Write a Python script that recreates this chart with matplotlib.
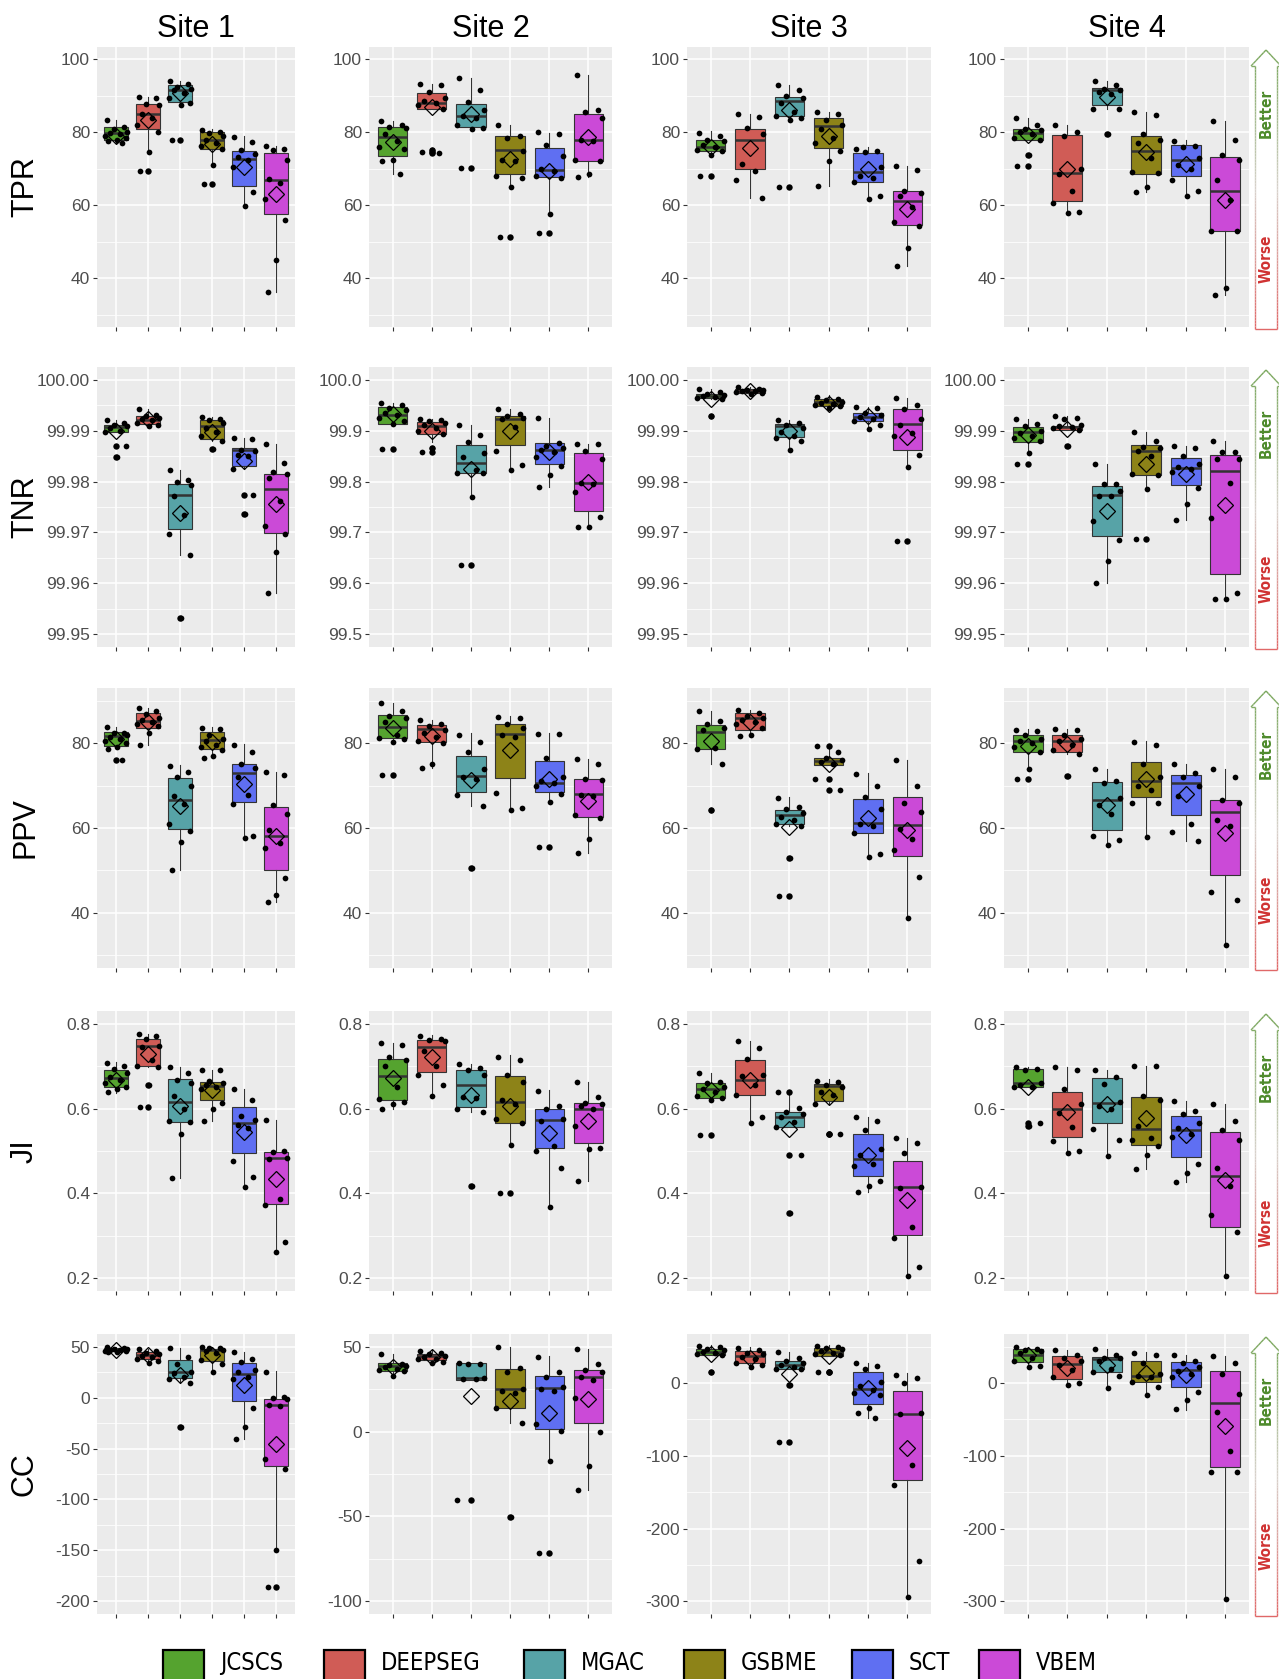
import matplotlib
matplotlib.use("Agg")
import matplotlib.pyplot as plt
import numpy as np
from matplotlib.collections import LineCollection
from matplotlib.colors import LinearSegmentedColormap
from matplotlib.patches import Rectangle

plt.rcParams['font.family'] = ['Liberation Sans', 'DejaVu Sans']
plt.rcParams['axes.unicode_minus'] = False

# ------------------------------------------------------------
# Methods, sites, metrics
# ------------------------------------------------------------
METHODS = ["JCSCS", "DEEPSEG", "MGAC", "GSBME", "SCT", "VBEM"]
COLORS = ["#55A32F", "#D05C56", "#57A3A7", "#8D8318", "#5F6FF2", "#CB4AD7"]
SITES = ["Site 1", "Site 2", "Site 3", "Site 4"]
METRICS = ["TPR", "TNR", "PPV", "JI", "CC"]

# box stats per site, per method: (whisker low, q1, median, q3, whisker high)
TPR_BOX = [
    [(77.2, 77.95, 79.8, 81.4, 83.4), (74.6, 81.0, 85.1, 87.8, 89.6), (87.4, 88.3, 91.7, 92.9, 94.1),
     (70.9, 75.5, 77.8, 80.1, 81.0), (59.7, 65.2, 72.7, 75.0, 79.1), (36.1, 57.5, 66.8, 74.3, 76.2)],
    [(68.6, 73.5, 78.7, 81.4, 83.0), (86.3, 86.3, 88.1, 90.9, 93.3), (81.0, 81.4, 84.4, 87.8, 95.0),
     (65.0, 68.6, 75.2, 79.0, 81.9), (57.6, 67.7, 69.7, 75.8, 79.8), (67.7, 72.1, 77.8, 85.1, 95.6)],
    [(73.8, 74.8, 76.1, 78.0, 80.3), (62.0, 70.0, 78.0, 81.0, 85.0), (83.5, 84.4, 88.5, 89.8, 92.9),
     (65.2, 75.8, 81.7, 84.0, 85.5), (61.8, 66.5, 69.1, 74.3, 75.9), (43.2, 54.7, 61.1, 63.9, 70.7)],
    [(78.0, 78.0, 79.8, 81.0, 83.8), (58.0, 61.1, 68.8, 79.4, 82.0), (86.3, 87.6, 91.7, 92.2, 94.0),
     (63.5, 68.6, 75.0, 79.0, 85.5), (62.4, 67.9, 72.3, 76.4, 77.8), (35.5, 52.9, 64.0, 73.2, 83.2)],
]
TPR_MEAN = [
    [79.1, 83.3, 90.8, 76.9, 70.4, 63.1],
    [77.3, 86.9, 84.9, 72.7, 69.4, 78.7],
    [75.9, 75.8, 86.0, 79.1, 70.0, 59.0],
    [79.3, 70.0, 89.8, 74.6, 71.4, 61.3],
]
TPR_PTS = [
    [[83.4, 81.5, 80.8, 80.2, 79.8, 79.5, 79.0, 78.5, 78.0, 77.5, 77.2],
     [89.6, 89.4, 87.9, 87.6, 85.0, 84.0, 82.0, 80.0, 74.6, 69.3],
     [94.0, 93.2, 92.5, 92.0, 91.5, 90.8, 89.5, 88.0, 87.4, 77.8],
     [80.7, 80.2, 79.8, 79.0, 78.0, 77.0, 76.2, 75.5, 70.9, 65.8],
     [78.8, 77.3, 75.1, 74.0, 73.2, 72.5, 70.4, 63.6, 59.8],
     [76.2, 75.3, 75.2, 72.4, 67.2, 66.0, 61.7, 56.0, 44.9, 36.1]],
    [[83.0, 82.0, 81.5, 81.2, 79.5, 77.5, 76.0, 75.5, 72.5, 72.0, 68.6],
     [93.3, 93.0, 91.0, 89.5, 88.5, 88.0, 87.5, 86.5, 75.2, 74.5, 74.3],
     [95.0, 91.5, 88.2, 86.0, 84.5, 84.0, 82.0, 81.2, 81.0, 70.2],
     [81.9, 79.0, 78.5, 75.0, 72.5, 72.0, 68.0, 67.5, 65.0, 51.2],
     [80.0, 79.5, 76.5, 73.5, 70.0, 69.5, 68.0, 67.5, 57.5, 52.3],
     [95.6, 86.2, 85.5, 84.0, 78.0, 77.5, 72.3, 72.0, 68.5, 67.7]],
    [[79.8, 79.0, 78.0, 77.5, 76.5, 76.0, 75.2, 74.8, 73.8, 68.1],
     [85.0, 84.2, 81.3, 79.5, 71.2, 69.5, 66.8, 62.0],
     [92.9, 91.5, 90.0, 89.5, 88.0, 85.5, 84.5, 84.0, 83.5, 65.0],
     [85.5, 85.0, 83.5, 82.0, 81.0, 78.5, 77.0, 75.0, 72.0, 65.2],
     [75.5, 75.0, 74.5, 70.5, 68.0, 67.5, 66.5, 62.5, 61.8],
     [70.7, 69.8, 64.0, 63.3, 62.5, 59.5, 55.4, 54.3, 48.3, 43.2]],
    [[83.8, 82.0, 81.0, 80.5, 80.0, 79.5, 78.5, 78.0, 73.8, 70.7],
     [82.0, 80.0, 79.0, 70.0, 68.5, 64.0, 60.5, 58.2, 58.0],
     [94.0, 93.0, 92.0, 91.5, 91.0, 90.5, 86.5, 86.3, 79.5],
     [85.5, 84.8, 79.5, 78.0, 77.0, 73.0, 69.0, 68.8, 65.0, 63.5],
     [77.5, 76.2, 76.0, 73.0, 71.0, 70.0, 67.0, 63.8, 62.5],
     [83.2, 78.0, 73.7, 72.5, 66.8, 61.5, 53.0, 53.0, 37.2, 35.5]],
]

TNR_BOX = [
    [(99.9897, 99.9897, 99.9907, 99.9912, 99.9920), (99.9910, 99.9913, 99.9921, 99.9929, 99.9943),
     (99.9655, 99.9707, 99.9773, 99.9795, 99.9823), (99.9880, 99.9884, 99.9910, 99.9920, 99.9927),
     (99.9825, 99.9831, 99.9862, 99.9866, 99.9886), (99.9581, 99.9699, 99.9786, 99.9814, 99.9874)],
    [(99.914, 99.914, 99.931, 99.946, 99.955), (99.877, 99.893, 99.910, 99.916, 99.923),
     (99.769, 99.817, 99.836, 99.8725, 99.911), (99.823, 99.871, 99.923, 99.928, 99.943),
     (99.790, 99.835, 99.862, 99.876, 99.925), (99.711, 99.743, 99.797, 99.856, 99.874)],
    [(99.9962, 99.9964, 99.9969, 99.9972, 99.9982), (99.9972, 99.9974, 99.9977, 99.9982, 99.9986),
     (99.9862, 99.9888, 99.9910, 99.9914, 99.9920), (99.9945, 99.9948, 99.9956, 99.9962, 99.9970),
     (99.9904, 99.9918, 99.9926, 99.9934, 99.9946), (99.9828, 99.9861, 99.9913, 99.9943, 99.9965)],
    [(99.9857, 99.9877, 99.9897, 99.9907, 99.9922), (99.9901, 99.9901, 99.9907, 99.9910, 99.9929),
     (99.9600, 99.9694, 99.9773, 99.9791, 99.9835), (99.9786, 99.9813, 99.9860, 99.9871, 99.9898),
     (99.9725, 99.9794, 99.9826, 99.9846, 99.9869), (99.9570, 99.9619, 99.9820, 99.9853, 99.9880)],
]
TNR_MEAN = [
    [99.9900, 99.9923, 99.9738, 99.9898, 99.9841, 99.9755],
    [99.933, 99.900, 99.825, 99.900, 99.859, 99.799],
    [99.9963, 99.9978, 99.9900, 99.9952, 99.9929, 99.9887],
    [99.9892, 99.9903, 99.9742, 99.9835, 99.9815, 99.9753],
]
TNR_PTS = [
    [[99.9920, 99.9915, 99.9912, 99.9910, 99.9905, 99.9900, 99.9897, 99.9870, 99.9848],
     [99.9943, 99.9930, 99.9928, 99.9925, 99.9922, 99.9920, 99.9915, 99.9912, 99.9910],
     [99.9823, 99.9803, 99.9800, 99.9793, 99.9772, 99.9735, 99.9697, 99.9655, 99.9532],
     [99.9927, 99.9922, 99.9920, 99.9915, 99.9905, 99.9898, 99.9890, 99.9880, 99.9864],
     [99.9886, 99.9884, 99.9862, 99.9860, 99.9853, 99.9850, 99.9825, 99.9774, 99.9737],
     [99.9874, 99.9836, 99.9818, 99.9815, 99.9807, 99.9762, 99.9712, 99.9696, 99.9662, 99.9581]],
    [[99.955, 99.950, 99.945, 99.940, 99.935, 99.930, 99.925, 99.918, 99.914, 99.864],
     [99.922, 99.920, 99.918, 99.915, 99.912, 99.905, 99.900, 99.893, 99.866, 99.858],
     [99.911, 99.892, 99.877, 99.856, 99.848, 99.822, 99.817, 99.816, 99.769, 99.636],
     [99.943, 99.932, 99.928, 99.925, 99.922, 99.908, 99.860, 99.833, 99.823],
     [99.925, 99.876, 99.870, 99.866, 99.862, 99.858, 99.848, 99.830, 99.813, 99.790],
     [99.874, 99.873, 99.860, 99.844, 99.797, 99.796, 99.780, 99.731, 99.711, 99.711]],
    [[99.9982, 99.9975, 99.9972, 99.9970, 99.9968, 99.9966, 99.9964, 99.9962, 99.9928],
     [99.9985, 99.9982, 99.9980, 99.9979, 99.9978, 99.9977, 99.9975, 99.9973, 99.9972],
     [99.9920, 99.9915, 99.9912, 99.9905, 99.9898, 99.9890, 99.9886, 99.9880, 99.9862],
     [99.9966, 99.9963, 99.9960, 99.9957, 99.9955, 99.9953, 99.9950, 99.9948, 99.9945],
     [99.9946, 99.9944, 99.9935, 99.9930, 99.9926, 99.9922, 99.9918, 99.9912, 99.9904],
     [99.9965, 99.9950, 99.9942, 99.9922, 99.9912, 99.9895, 99.9890, 99.9852, 99.9828, 99.9683]],
    [[99.9922, 99.9913, 99.9910, 99.9900, 99.9895, 99.9890, 99.9885, 99.9880, 99.9857, 99.9834],
     [99.9929, 99.9925, 99.9923, 99.9912, 99.9910, 99.9908, 99.9905, 99.9902, 99.9869],
     [99.9835, 99.9795, 99.9795, 99.9782, 99.9772, 99.9772, 99.9723, 99.9686, 99.9643, 99.9600],
     [99.9898, 99.9880, 99.9868, 99.9865, 99.9860, 99.9850, 99.9815, 99.9812, 99.9786, 99.9687],
     [99.9869, 99.9866, 99.9850, 99.9835, 99.9828, 99.9825, 99.9818, 99.9788, 99.9755, 99.9725],
     [99.9880, 99.9858, 99.9858, 99.9845, 99.9845, 99.9798, 99.9728, 99.9582, 99.9570, 99.9570]],
]

PPV_BOX = [
    [(78.6, 79.4, 81.6, 82.7, 83.8), (79.5, 83.5, 85.3, 87.0, 88.4), (50.0, 59.8, 66.7, 71.7, 74.8),
     (76.6, 78.6, 80.7, 82.7, 83.7), (57.6, 66.2, 72.9, 75.1, 79.8), (42.5, 50.0, 58.2, 65.0, 73.3)],
    [(80.2, 81.3, 83.8, 86.7, 89.4), (74.2, 80.3, 83.3, 84.3, 85.5), (65.3, 68.5, 72.3, 77.0, 82.4),
     (64.3, 71.7, 82.1, 84.5, 86.3), (66.2, 68.4, 70.7, 75.7, 82.4), (54.1, 62.7, 68.0, 71.5, 76.2)],
    [(75.0, 78.6, 82.7, 84.2, 87.5), (81.7, 83.1, 85.9, 87.2, 87.8), (60.5, 60.9, 63.1, 64.3, 67.2),
     (74.8, 74.8, 75.8, 76.6, 78.6), (53.1, 58.8, 61.2, 66.8, 72.9), (38.7, 53.3, 60.8, 67.2, 76.0)],
    [(73.9, 78.0, 80.5, 81.9, 83.3), (77.5, 78.0, 80.5, 81.9, 83.3), (56.0, 59.6, 66.7, 70.9, 73.9),
     (57.8, 67.2, 71.1, 75.5, 80.4), (57.0, 63.1, 70.6, 72.5, 75.2), (32.5, 48.9, 63.7, 66.6, 74.0)],
]
PPV_MEAN = [
    [80.9, 84.9, 65.1, 80.3, 70.4, 58.2],
    [83.5, 81.6, 71.3, 78.4, 71.5, 66.4],
    [80.4, 85.1, 60.2, 75.1, 62.3, 59.5],
    [79.4, 79.8, 65.4, 71.5, 68.0, 58.8],
]
PPV_PTS = [
    [[83.8, 82.5, 82.3, 82.0, 81.5, 81.0, 80.5, 80.0, 79.0, 78.6, 76.0],
     [88.4, 87.5, 86.8, 86.0, 85.5, 85.0, 84.5, 84.0, 82.5, 79.5],
     [74.5, 73.2, 72.0, 70.0, 67.5, 65.6, 61.0, 59.2, 56.7, 50.0],
     [83.6, 83.3, 82.0, 81.0, 80.5, 79.5, 79.0, 78.5, 77.0, 76.6],
     [79.6, 78.0, 75.2, 74.2, 72.0, 67.8, 65.7, 58.1, 57.6],
     [73.3, 72.4, 65.4, 63.3, 59.5, 56.5, 55.3, 48.1, 44.3, 42.5]],
    [[89.4, 87.6, 86.3, 86.0, 85.0, 82.0, 81.2, 81.0, 80.2, 72.6],
     [85.5, 84.5, 84.0, 83.2, 82.5, 81.5, 80.5, 80.0, 75.0, 74.2],
     [82.0, 80.2, 78.0, 73.8, 72.0, 71.5, 67.8, 65.3, 50.5],
     [86.2, 86.0, 84.5, 83.5, 82.0, 81.5, 68.2, 64.8, 64.3],
     [82.2, 82.2, 76.5, 72.0, 71.0, 70.5, 70.0, 68.0, 66.2, 55.5],
     [76.2, 75.0, 71.5, 71.2, 67.8, 67.5, 63.0, 62.3, 57.4, 54.1]],
    [[87.5, 85.2, 84.5, 83.5, 83.0, 78.8, 78.7, 75.0, 64.3],
     [87.8, 87.0, 86.5, 86.0, 85.5, 85.0, 84.5, 83.5, 82.0, 81.7],
     [67.0, 65.0, 64.5, 63.5, 62.5, 62.0, 61.0, 60.5, 53.0, 44.0],
     [79.3, 78.0, 76.5, 76.0, 75.5, 75.0, 71.5, 69.0],
     [72.8, 70.0, 67.2, 64.4, 61.0, 60.5, 58.8, 53.8, 53.1],
     [76.0, 69.8, 66.0, 63.8, 59.8, 57.5, 54.7, 48.4, 38.7]],
    [[83.2, 82.8, 82.0, 81.0, 80.5, 80.0, 79.0, 78.0, 73.9, 71.5],
     [83.3, 83.0, 82.0, 81.0, 80.5, 79.5, 78.5, 77.5, 72.3],
     [73.8, 71.0, 70.5, 67.0, 65.5, 63.3, 58.2, 57.2, 56.0],
     [80.2, 79.5, 75.0, 72.0, 70.0, 69.0, 66.0, 66.0, 57.8],
     [75.0, 73.0, 72.0, 70.0, 67.5, 61.0, 59.0, 57.0],
     [74.0, 72.0, 66.5, 66.0, 62.0, 60.5, 45.0, 43.0, 32.5]],
]

JI_BOX = [
    [(0.637, 0.650, 0.671, 0.692, 0.710), (0.698, 0.700, 0.747, 0.765, 0.776), (0.437, 0.569, 0.616, 0.669, 0.698),
     (0.570, 0.620, 0.653, 0.663, 0.692), (0.416, 0.496, 0.567, 0.603, 0.645), (0.261, 0.375, 0.483, 0.497, 0.574)],
    [(0.600, 0.620, 0.676, 0.718, 0.755), (0.629, 0.686, 0.745, 0.762, 0.773), (0.592, 0.603, 0.655, 0.692, 0.706),
     (0.514, 0.567, 0.616, 0.676, 0.726), (0.369, 0.506, 0.574, 0.598, 0.643), (0.430, 0.520, 0.598, 0.612, 0.663)],
    [(0.620, 0.624, 0.645, 0.661, 0.684), (0.567, 0.633, 0.668, 0.714, 0.759), (0.556, 0.556, 0.579, 0.591, 0.635),
     (0.611, 0.617, 0.653, 0.659, 0.669), (0.404, 0.440, 0.480, 0.541, 0.581), (0.206, 0.303, 0.415, 0.477, 0.531)],
    [(0.650, 0.650, 0.661, 0.693, 0.698), (0.496, 0.532, 0.600, 0.638, 0.698), (0.489, 0.567, 0.612, 0.671, 0.692),
     (0.457, 0.514, 0.553, 0.628, 0.700), (0.428, 0.487, 0.549, 0.582, 0.617), (0.205, 0.322, 0.441, 0.545, 0.610)],
]
JI_MEAN = [
    [0.667, 0.728, 0.606, 0.643, 0.545, 0.434],
    [0.673, 0.722, 0.632, 0.606, 0.543, 0.570],
    [0.643, 0.667, 0.553, 0.628, 0.491, 0.385],
    [0.650, 0.591, 0.610, 0.577, 0.538, 0.432],
]
JI_PTS = [
    [[0.708, 0.700, 0.694, 0.685, 0.675, 0.668, 0.660, 0.652, 0.645, 0.638],
     [0.776, 0.770, 0.765, 0.748, 0.745, 0.715, 0.700, 0.698, 0.655, 0.603],
     [0.698, 0.683, 0.668, 0.660, 0.630, 0.598, 0.570, 0.568, 0.540, 0.437],
     [0.692, 0.690, 0.665, 0.660, 0.655, 0.650, 0.645, 0.612, 0.598, 0.570],
     [0.645, 0.620, 0.582, 0.572, 0.562, 0.555, 0.477, 0.438, 0.416],
     [0.574, 0.500, 0.498, 0.484, 0.480, 0.386, 0.372, 0.286, 0.261]],
    [[0.755, 0.750, 0.722, 0.715, 0.700, 0.650, 0.622, 0.615, 0.610, 0.600],
     [0.770, 0.765, 0.762, 0.760, 0.735, 0.700, 0.680, 0.655, 0.630],
     [0.705, 0.695, 0.690, 0.680, 0.628, 0.625, 0.600, 0.592, 0.418],
     [0.722, 0.715, 0.680, 0.663, 0.620, 0.610, 0.575, 0.565, 0.514, 0.400],
     [0.642, 0.605, 0.598, 0.576, 0.570, 0.512, 0.500, 0.460, 0.369],
     [0.662, 0.628, 0.612, 0.610, 0.605, 0.600, 0.558, 0.508, 0.505, 0.430]],
    [[0.684, 0.663, 0.660, 0.652, 0.645, 0.640, 0.630, 0.625, 0.620, 0.538],
     [0.759, 0.742, 0.716, 0.680, 0.677, 0.655, 0.633, 0.580, 0.567],
     [0.638, 0.602, 0.592, 0.588, 0.580, 0.568, 0.556, 0.491, 0.353],
     [0.666, 0.662, 0.655, 0.650, 0.640, 0.632, 0.611, 0.541, 0.541],
     [0.581, 0.570, 0.550, 0.505, 0.490, 0.470, 0.465, 0.430, 0.417, 0.404],
     [0.531, 0.518, 0.495, 0.415, 0.413, 0.320, 0.294, 0.226, 0.206]],
    [[0.698, 0.694, 0.692, 0.660, 0.655, 0.652, 0.650, 0.565, 0.560],
     [0.697, 0.690, 0.645, 0.610, 0.590, 0.556, 0.523, 0.500, 0.496],
     [0.692, 0.675, 0.658, 0.615, 0.605, 0.600, 0.553, 0.527, 0.489],
     [0.700, 0.700, 0.630, 0.620, 0.558, 0.530, 0.525, 0.511, 0.490, 0.457],
     [0.617, 0.595, 0.588, 0.565, 0.555, 0.540, 0.533, 0.470, 0.448, 0.428],
     [0.610, 0.570, 0.550, 0.527, 0.460, 0.418, 0.350, 0.310, 0.205]],
]

CC_BOX = [
    [(44.5, 45.5, 46.5, 48.5, 49.5), (34.0, 37.9, 41.5, 44.4, 48.0), (14.4, 19.3, 25.2, 37.3, 49.0),
     (25.2, 35.6, 46.4, 48.0, 49.8), (-40.5, -2.9, 23.5, 34.0, 44.8), (-150.0, -67.3, -6.9, -1.0, 25.8)],
    [(33.0, 35.9, 38.4, 40.4, 45.7), (40.5, 42.4, 44.3, 45.7, 48.2), (30.6, 30.6, 31.6, 40.2, 40.5),
     (5.0, 13.9, 25.3, 37.1, 50.0), (-17.5, 1.8, 25.7, 32.5, 44.3), (-34.7, 5.1, 32.0, 36.5, 48.8)],
    [(38.5, 38.9, 42.6, 47.2, 51.8), (22.0, 27.5, 36.6, 43.5, 49.0), (19.0, 19.7, 25.2, 30.7, 42.6),
     (37.6, 37.6, 42.6, 48.1, 51.8), (-48.1, -28.4, -8.2, 14.7, 27.5), (-294.5, -132.8, -42.1, -11.5, 13.7)],
    [(22.0, 28.9, 38.0, 47.2, 49.0), (-2.3, 6.0, 26.1, 36.6, 45.8), (-6.9, 14.7, 33.4, 35.3, 47.2),
     (-16.9, 1.4, 10.1, 30.7, 42.6), (-36.6, -6.0, 18.3, 28.4, 38.0), (-296.4, -115.9, -27.5, 17.0, 36.6)],
]
CC_MEAN = [
    [46.8, 41.5, 22.5, 41.5, 12.7, -45.4],
    [37.8, 43.9, 20.8, 17.8, 11.0, 19.4],
    [39.9, 34.4, 12.4, 36.6, -6.9, -89.3],
    [38.9, 20.6, 25.2, 13.7, 11.5, -59.6],
]
CC_PTS = [
    [[49.5, 49.0, 48.0, 47.5, 46.8, 46.5, 46.0, 45.5, 45.0, 44.5],
     [48.0, 46.0, 44.0, 42.5, 41.0, 40.0, 38.0, 36.0, 34.0],
     [49.0, 40.0, 33.0, 25.0, 24.0, 20.0, 18.5, 14.5, -29.0],
     [49.8, 49.0, 48.5, 47.0, 46.0, 44.0, 37.0, 33.0, 25.2],
     [44.8, 38.0, 35.0, 27.0, 25.0, 20.0, 18.0, -10.0, -29.0, -40.5],
     [25.5, 0.5, 0.0, -1.0, -7.0, -8.0, -60.0, -70.0, -150.0, -186.0]],
    [[45.5, 40.0, 39.0, 38.5, 38.0, 37.0, 36.0, 35.5, 33.0],
     [47.5, 46.5, 45.5, 44.5, 44.0, 43.0, 42.5, 41.0, 40.5],
     [40.5, 40.0, 40.0, 31.5, 31.0, 30.8, -40.5],
     [50.0, 37.5, 35.0, 25.0, 24.0, 22.5, 14.0, 5.0, -50.6],
     [44.0, 35.0, 32.0, 26.0, 25.0, 24.0, 4.5, 0.5, -17.5, -71.5],
     [48.8, 40.0, 36.5, 35.0, 32.0, 30.5, 20.0, -0.5, -20.0, -34.7]],
    [[50.5, 49.0, 47.5, 45.0, 43.0, 42.0, 40.0, 38.5, 14.7],
     [48.5, 45.5, 42.0, 40.0, 36.0, 33.0, 28.0, 25.0, 22.0],
     [42.5, 34.0, 30.0, 28.0, 25.0, 22.0, 20.0, 19.0, -3.0, -81.5],
     [51.0, 49.5, 48.0, 46.5, 44.0, 42.0, 40.0, 38.0, 15.0, 15.0],
     [27.5, 24.0, 19.0, 2.0, -4.0, -10.0, -14.0, -17.0, -34.0, -41.0, -47.5],
     [11.0, 7.0, -0.5, -41.0, -42.0, -112.0, -140.0, -245.0, -294.5]],
    [[49.0, 46.5, 46.0, 44.0, 42.0, 35.0, 30.0, 23.0, 22.0],
     [45.0, 38.0, 35.0, 30.0, 25.0, 18.0, 8.0, 0.0, -2.0],
     [47.0, 38.0, 35.0, 34.0, 30.0, 20.0, 15.0, 10.0, -6.9],
     [42.0, 38.0, 28.0, 12.0, 10.0, 8.0, 2.0, -6.0, -16.9],
     [38.0, 30.0, 28.0, 22.0, 17.0, 12.0, 8.0, -12.0, -23.0, -36.0],
     [36.6, 27.0, 12.0, -15.0, -40.0, -94.0, -122.0, -122.0, -296.4]],
]

# y-axis per metric and site: (limits, ticks, label format)
TNR_T2 = [99.95, 99.96, 99.97, 99.98, 99.99, 100.00]
YAXIS = {
    "TPR": [((26.6, 103.4), [40, 60, 80, 100], "%d")] * 4,
    "TNR": [((99.9475, 100.0025), TNR_T2, "%.2f"),
            ((99.475, 100.025), [99.5, 99.6, 99.7, 99.8, 99.9, 100.0], "%.1f"),
            ((99.9475, 100.0025), TNR_T2, "%.2f"),
            ((99.9475, 100.0025), TNR_T2, "%.2f")],
    "PPV": [((27.0, 93.0), [40, 60, 80], "%d")] * 4,
    "JI": [((0.17, 0.83), [0.2, 0.4, 0.6, 0.8], "%.1f")] * 4,
    "CC": [((-212.5, 62.5), [-200, -150, -100, -50, 0, 50], "%d"),
           ((-107.5, 57.5), [-100, -50, 0, 50], "%d"),
           ((-317.5, 67.5), [-300, -200, -100, 0], "%d"),
           ((-317.5, 67.5), [-300, -200, -100, 0], "%d")],
}

DATA = {
    "TPR": (TPR_BOX, TPR_MEAN, TPR_PTS),
    "TNR": (TNR_BOX, TNR_MEAN, TNR_PTS),
    "PPV": (PPV_BOX, PPV_MEAN, PPV_PTS),
    "JI": (JI_BOX, JI_MEAN, JI_PTS),
    "CC": (CC_BOX, CC_MEAN, CC_PTS),
}

# ------------------------------------------------------------
# layout (pixels)
# ------------------------------------------------------------
W, H = 1279, 1679
PANEL_X = [(97, 198), (369, 243), (687, 244), (1004, 245)]
ROW_TOP = [47, 367, 688, 1011, 1334]
PANEL_H = 280
JIT = [-0.30, 0.24, -0.08, 0.34, -0.20, 0.12, -0.35, 0.30, 0.02, -0.26, 0.18, -0.14]


def px_rect(x, y, w, h):
    return [x / W, 1 - (y + h) / H, w / W, h / H]


def draw_panel(ax, box, means, pts, yax):
    ylim, ticks, fmt = yax
    ax.set_facecolor("#EBEBEB")
    for sp in ax.spines.values():
        sp.set_visible(False)
    pos = np.arange(1, 7)
    tol = 0.004 * (ylim[1] - ylim[0])
    stats = []
    for k in range(6):
        lo, q1, med, q3, hi = box[k]
        fl = [v for v in pts[k] if v < lo - tol or v > hi + tol]
        stats.append(dict(whislo=lo, q1=q1, med=med, q3=q3, whishi=hi, fliers=fl))
    bp = ax.bxp(stats, positions=pos, widths=0.75, patch_artist=True,
                showcaps=False, showfliers=True,
                boxprops=dict(edgecolor="#333333", linewidth=0.8),
                medianprops=dict(color="#333333", linewidth=1.8),
                whiskerprops=dict(color="#333333", linewidth=0.8),
                flierprops=dict(marker="o", markerfacecolor="black",
                                markeredgecolor="none", markersize=4.6))
    for patch, c in zip(bp["boxes"], COLORS):
        patch.set_facecolor(c)
        patch.set_zorder(2)
    for k in range(6):
        xs = [pos[k] + JIT[i % len(JIT)] for i in range(len(pts[k]))]
        ax.scatter(xs, pts[k], s=17, color="black", linewidths=0, zorder=3)
        ax.plot(pos[k], means[k], marker="D", ms=7.8, mfc="none",
                mec="black", mew=0.9, zorder=4)

    ax.set_xlim(0.4, 6.6)
    ax.set_ylim(*ylim)
    ax.set_xticks(pos)
    ax.set_xticklabels([""] * 6)
    ax.set_yticks(ticks)
    ax.set_yticklabels([fmt % t for t in ticks])
    step = ticks[1] - ticks[0]
    minor = [t + step / 2 for t in [ticks[0] - step] + list(ticks)]
    minor = [m for m in minor if ylim[0] < m < ylim[1]]
    ax.set_yticks(minor, minor=True)
    ax.tick_params(which="major", length=3, width=0.8, color="#333333",
                   labelsize=12.5, labelcolor="#4D4D4D", pad=2)
    ax.tick_params(which="minor", length=0)
    ax.set_axisbelow(True)
    ax.grid(which="major", color="white", linewidth=1.1)
    ax.grid(which="minor", axis="y", color="white", linewidth=0.55)


def draw_arrow(top):
    ax = fig.add_axes(px_rect(1249, top, 30, PANEL_H + 2))
    ax.set_xlim(0, 30)
    ax.set_ylim(PANEL_H + 2, 0)
    ax.axis("off")
    outline = [(6, 281), (6, 18), (2, 18), (17, 2), (32, 18), (28, 18), (28, 281), (6, 281)]
    segs, yv = [], []
    for (xa, ya), (xb, yb) in zip(outline[:-1], outline[1:]):
        n = max(2, int(abs(yb - ya) / 3) + 2)
        xx = np.linspace(xa, xb, n)
        yy = np.linspace(ya, yb, n)
        for i in range(n - 1):
            segs.append([(xx[i], yy[i]), (xx[i + 1], yy[i + 1])])
            yv.append((yy[i] + yy[i + 1]) / 2)
    cmap = LinearSegmentedColormap.from_list("gr", ["#78A65A", "#D8D2CC", "#E06868"])
    lc = LineCollection(segs, cmap=cmap, linewidths=1.0)
    lc.set_array(np.array(yv) / 282.0)
    lc.set_clim(0, 1)
    lc.set_clip_on(False)
    ax.add_collection(lc)
    ax.text(17, 65, "Better", rotation=90, ha="center", va="center",
            color="#4E8B2C", fontsize=11, fontweight="bold",
            family=["DejaVu Sans"], fontstretch="condensed")
    ax.text(17, 211, "Worse", rotation=90, ha="center", va="center",
            color="#D03232", fontsize=11, fontweight="bold",
            family=["DejaVu Sans"], fontstretch="condensed")


fig = plt.figure(figsize=(W / 100, H / 100), dpi=100)

for r, metric in enumerate(METRICS):
    box_all, mean_all, pts_all = DATA[metric]
    for s in range(4):
        x0, w = PANEL_X[s]
        ax = fig.add_axes(px_rect(x0, ROW_TOP[r], w, PANEL_H))
        draw_panel(ax, box_all[s], mean_all[s], pts_all[s], YAXIS[metric][s])
    fig.text(25 / W, 1 - (ROW_TOP[r] + PANEL_H / 2) / H, metric, rotation=90,
             ha="center", va="center", fontsize=22)
    draw_arrow(ROW_TOP[r] + 1)

for s, name in enumerate(SITES):
    x0, w = PANEL_X[s]
    fig.text((x0 + w / 2) / W, 1 - 29 / H, name, ha="center", va="center", fontsize=22)

# legend along the bottom edge
KEY_X = [163, 324, 524, 684, 852, 979]
for k, name in enumerate(METHODS):
    fig.patches.append(Rectangle((KEY_X[k] / W, 1 - 1695 / H), 41 / W, 45 / H,
                                 transform=fig.transFigure, facecolor=COLORS[k],
                                 edgecolor="black", linewidth=1.6))
    fig.text((KEY_X[k] + 57) / W, 1 - 1663 / H, name, ha="left", va="center",
             fontsize=17, family=["DejaVu Sans"], fontstretch="condensed")

fig.savefig("out.png", dpi=100)
